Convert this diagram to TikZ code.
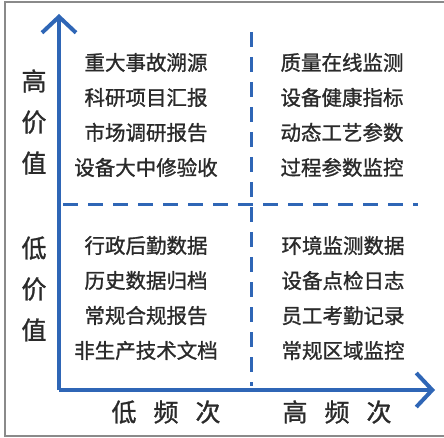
\documentclass[tikz,border=0pt]{standalone}
\usepackage{fontspec}
\newfontfamily\cjk[FakeBold=1.2]{Noto Sans CJK SC}
\usetikzlibrary{arrows.meta}
\definecolor{axisblue}{HTML}{2F66B6}
\definecolor{txt}{HTML}{2A2A2A}
\definecolor{frame}{HTML}{8A8A8A}
\newcommand{\hgap}{\hspace{17pt}}
\tikzset{
  axis/.style={line width=4pt, draw=axisblue, -{Straight Barb[length=16pt,width=34pt,line width=4pt]}},
  divider/.style={line width=3pt, draw=axisblue, dash pattern=on 15pt off 10pt},
  item/.style={font=\cjk\fontsize{20.5}{35}\selectfont, text=txt, align=center, inner sep=0pt},
  vlabel/.style={font=\cjk\fontsize{25}{41}\selectfont, text=txt, align=center, inner sep=0pt},
  hlabel/.style={font=\cjk\fontsize{25}{30}\selectfont, text=txt, inner sep=0pt},
}
\begin{document}
\begin{tikzpicture}[x=1pt,y=-1pt]
\useasboundingbox (0,0) rectangle (444,438);
\draw[frame, line width=1.3pt] (444,2) -- (5,2) -- (5,436) -- (444,436);
% dividers
\coordinate (hd1) at (63,205);
\coordinate (hd2) at (418,205);
\coordinate (vd1) at (251,32);
\coordinate (vd2) at (251,386);
\draw[divider] (hd1) -- (hd2);
\draw[divider] (vd1) -- (vd2);
% axes
\coordinate (O) at (59,390);
\coordinate (Ytip) at (59,14);
\coordinate (Xtip) at (435,390);
\draw[axis] (O) -- (Ytip);
\draw[axis] (O) -- (Xtip);
% quadrant text
\node[item] (tl) at (146,115) {重大事故溯源\\科研项目汇报\\市场调研报告\\设备大中修验收};
\node[item] (tr) at (342,115) {质量在线监测\\设备健康指标\\动态工艺参数\\过程参数监控};
\node[item] (bl) at (146,298) {行政后勤数据\\历史数据归档\\常规合规报告\\非生产技术文档};
\node[item] (br) at (343,298) {环境监测数据\\设备点检日志\\员工考勤记录\\常规区域监控};
% axis labels
\node[vlabel] (hv) at (34,122) {高\\价\\值};
\node[vlabel] (lv) at (34,289) {低\\价\\值};
\node[hlabel] (lf) at (166,412) {低\hgap 频\hgap 次};
\node[hlabel] (hf) at (337,412) {高\hgap 频\hgap 次};
\end{tikzpicture}
\end{document}
